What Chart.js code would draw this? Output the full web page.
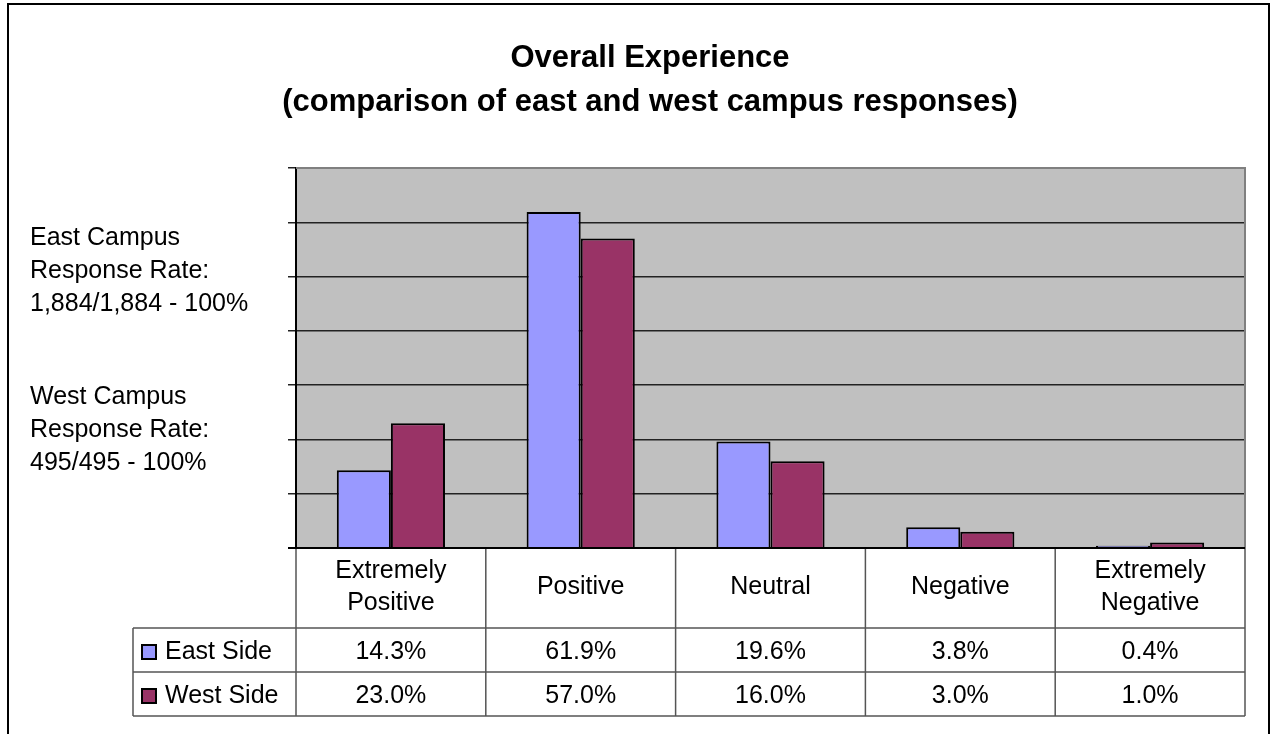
<!DOCTYPE html>
<html>
<head>
<meta charset="utf-8">
<script src="https://cdn.jsdelivr.net/npm/chart.js@4"></script>
<style>
  html, body { margin: 0; padding: 0; background: #fff; }
  #wrap { width: 1272px; height: 734px; }
</style>
</head>
<body>
<div id="wrap"><canvas id="myChart" width="1272" height="734"></canvas></div>
<script>
const categories = [["Extremely", "Positive"], ["Positive"], ["Neutral"], ["Negative"], ["Extremely", "Negative"]];
const eastSide = [14.3, 61.9, 19.6, 3.8, 0.4];
const westSide = [23.0, 57.0, 16.0, 3.0, 1.0];
const seriesNames = ["East Side", "West Side"];
const seriesColors = ["#9999FF", "#993366"];
const sideNotes = [
  ["East Campus", "Response Rate:", "1,884/1,884 - 100%"],
  ["West Campus", "Response Rate:", "495/495 - 100%"]
];

const FONT = "'Liberation Sans', Arial, sans-serif";
const TXT = "25px " + FONT;

// grey plot area, outer frame
const backdrop = {
  id: "backdrop",
  beforeDraw(chart) {
    const { ctx, chartArea: a } = chart;
    ctx.save();
    ctx.fillStyle = "#fff";
    ctx.fillRect(0, 0, chart.width, chart.height);
    ctx.fillStyle = "#C0C0C0";
    ctx.fillRect(a.left, a.top, a.right - a.left, a.bottom - a.top);
    ctx.restore();
  },
  beforeDatasetsDraw(chart) {
    const { ctx, chartArea: a } = chart;
    ctx.save();
    ctx.strokeStyle = "#808080";
    ctx.lineWidth = 2;
    ctx.beginPath();
    ctx.moveTo(a.left, a.top);
    ctx.lineTo(a.right, a.top);
    ctx.lineTo(a.right, a.bottom);
    ctx.stroke();
    ctx.restore();
  }
};

// data table under the plot + side notes
const dataTable = {
  id: "dataTable",
  afterDraw(chart) {
    const { ctx, chartArea: a } = chart;
    const x = chart.scales.x;
    const step = x.getPixelForValue(1) - x.getPixelForValue(0);
    const headBottom = a.bottom + 80;
    const rowH = 44;
    const tableLeft = 133;
    const tableBottom = headBottom + rowH * 2;

    ctx.save();
    ctx.strokeStyle = "#555";
    ctx.lineWidth = 1.5;
    ctx.beginPath();
    // vertical lines
    ctx.moveTo(a.left, a.bottom);
    ctx.lineTo(a.left, tableBottom);
    for (let i = 0; i < categories.length; i++) {
      const r = x.getPixelForValue(i) + step / 2;
      ctx.moveTo(r, a.bottom);
      ctx.lineTo(r, tableBottom);
    }
    ctx.moveTo(tableLeft, headBottom);
    ctx.lineTo(tableLeft, tableBottom);
    // horizontal lines
    for (let r = 0; r <= 2; r++) {
      const yy = headBottom + r * rowH;
      ctx.moveTo(tableLeft, yy);
      ctx.lineTo(a.right, yy);
    }
    ctx.stroke();

    // axis line
    ctx.strokeStyle = "#000";
    ctx.lineWidth = 2;
    ctx.beginPath();
    ctx.moveTo(a.left - 8, a.bottom);
    ctx.lineTo(a.right, a.bottom);
    ctx.stroke();

    ctx.fillStyle = "#000";
    ctx.font = TXT;
    ctx.textAlign = "center";
    ctx.textBaseline = "middle";
    categories.forEach((lines, i) => {
      const cx = x.getPixelForValue(i);
      const mid = a.bottom + 39;
      lines.forEach((t, j) => {
        ctx.fillText(t, cx, mid + (j - (lines.length - 1) / 2) * 32);
      });
    });

    const series = [eastSide, westSide];
    series.forEach((vals, r) => {
      const cy = headBottom + rowH * r + rowH / 2 + 2;
      ctx.textAlign = "center";
      vals.forEach((v, i) => {
        ctx.fillText(v.toFixed(1) + "%", x.getPixelForValue(i), cy);
      });
      // legend key
      ctx.fillStyle = seriesColors[r];
      ctx.fillRect(142, cy - 7, 14, 14);
      ctx.strokeStyle = "#000";
      ctx.lineWidth = 2;
      ctx.strokeRect(142, cy - 7, 14, 14);
      ctx.fillStyle = "#000";
      ctx.textAlign = "left";
      ctx.fillText(seriesNames[r], 165, cy);
    });

    // side notes
    ctx.textBaseline = "alphabetic";
    ctx.textAlign = "left";
    const baseTops = [245, 404];
    sideNotes.forEach((lines, k) => {
      lines.forEach((t, j) => {
        ctx.fillText(t, 30, baseTops[k] + j * 33);
      });
    });

    // outer frame
    ctx.strokeStyle = "#000";
    ctx.lineWidth = 2;
    ctx.beginPath();
    ctx.moveTo(8, chart.height);
    ctx.lineTo(8, 4);
    ctx.lineTo(1269, 4);
    ctx.lineTo(1269, chart.height);
    ctx.stroke();
    ctx.restore();
  }
};

new Chart(document.getElementById("myChart"), {
  type: "bar",
  data: {
    labels: categories,
    datasets: [
      {
        label: seriesNames[0],
        data: eastSide,
        backgroundColor: seriesColors[0],
        borderColor: "#000",
        borderWidth: 2,
        categoryPercentage: 0.57,
        barPercentage: 1.0,
      },
      {
        label: seriesNames[1],
        data: westSide,
        backgroundColor: seriesColors[1],
        borderColor: "#000",
        borderWidth: 2,
        categoryPercentage: 0.57,
        barPercentage: 1.0,
      },
    ],
  },
  options: {
    responsive: false,
    animation: false,
    layout: { padding: { left: 55, right: 27, top: 0, bottom: 186 } },
    plugins: {
      legend: { display: false },
      tooltip: { enabled: false },
      title: {
        display: true,
        text: ["Overall Experience", "(comparison of east and west campus responses)"],
        color: "#000",
        font: { family: FONT, size: 31, weight: "bold", lineHeight: 44 / 31 },
        padding: { top: 36, bottom: 44 },
      },
    },
    scales: {
      x: { display: false },
      y: {
        min: 0,
        max: 70,
        ticks: { display: false, stepSize: 10 },
        grid: {
          color: (c) => (c.tick && c.tick.value === 70 ? "rgba(0,0,0,0)" : "#222"),
          tickColor: "#222",
          tickLength: 8,
          lineWidth: 1.5,
        },
        border: { color: "#000", width: 2 },
        afterFit: (s) => { s.width = 241; },
      },
    },
  },
  plugins: [backdrop, dataTable],
});
</script>
</body>
</html>
